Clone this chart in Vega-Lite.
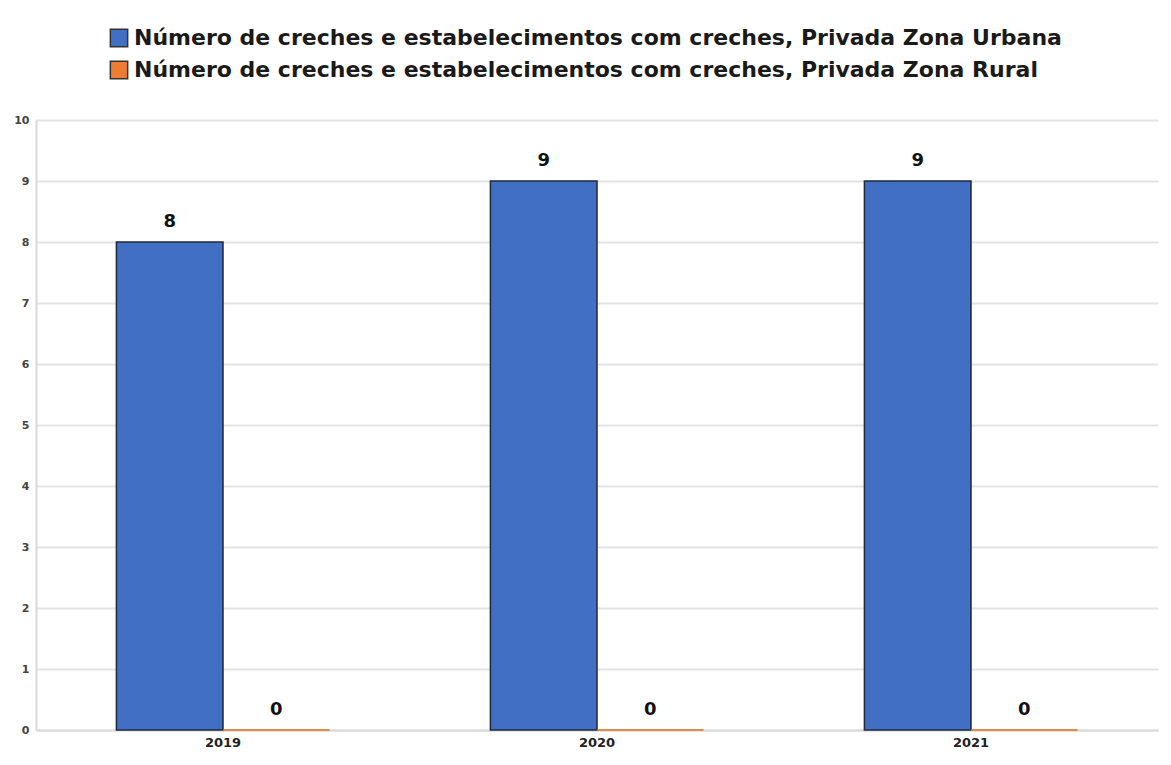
{
  "$schema": "https://vega.github.io/schema/vega-lite/v6.json",
  "width": 1122,
  "height": 610,
  "autosize": "none",
  "padding": {"left": 36, "top": 120, "right": 13, "bottom": 35},
  "background": "white",
  "config": {"view": {"stroke": null}},
  "data": {"values": [
    {"ano": "2019", "serie": "Número de creches e estabelecimentos com creches, Privada Zona Urbana", "valor": 8},
    {"ano": "2019", "serie": "Número de creches e estabelecimentos com creches, Privada Zona Rural", "valor": 0},
    {"ano": "2020", "serie": "Número de creches e estabelecimentos com creches, Privada Zona Urbana", "valor": 9},
    {"ano": "2020", "serie": "Número de creches e estabelecimentos com creches, Privada Zona Rural", "valor": 0},
    {"ano": "2021", "serie": "Número de creches e estabelecimentos com creches, Privada Zona Urbana", "valor": 9},
    {"ano": "2021", "serie": "Número de creches e estabelecimentos com creches, Privada Zona Rural", "valor": 0}
  ]},
  "encoding": {
    "x": {"field": "ano", "type": "nominal", "scale": {"paddingInner": 0.43, "paddingOuter": 0.215},
      "axis": {"title": null, "labelAngle": 0, "labelFont": "DejaVu Sans", "labelFontWeight": "bold", "labelFontSize": 13, "labelColor": "#222", "ticks": false, "labelPadding": 6, "domainColor": "#d9d9d9", "domainWidth": 2}},
    "xOffset": {"field": "serie", "type": "nominal", "sort": ["Número de creches e estabelecimentos com creches, Privada Zona Urbana", "Número de creches e estabelecimentos com creches, Privada Zona Rural"], "scale": {"paddingInner": 0, "paddingOuter": 0}},
    "y": {"field": "valor", "type": "quantitative", "scale": {"domain": [0, 10]},
      "axis": {"title": null, "values": [0,1,2,3,4,5,6,7,8,9,10], "labelOverlap": false, "labelFont": "DejaVu Sans", "labelFontSize": 11, "labelFontWeight": "bold", "labelColor": "#444", "ticks": false, "labelPadding": 7, "domainColor": "#d9d9d9", "domainWidth": 2, "gridColor": "#e3e3e3", "gridWidth": 2}}
  },
  "layer": [
    {
      "mark": {"type": "bar", "strokeWidth": 1.5},
      "encoding": {
        "color": {"field": "serie", "type": "nominal",
          "sort": ["Número de creches e estabelecimentos com creches, Privada Zona Urbana", "Número de creches e estabelecimentos com creches, Privada Zona Rural"],
          "scale": {"range": ["#416FC3", "#ED7D31"]},
          "legend": {"title": null, "orient": "none", "legendX": 72, "legendY": -93, "direction": "vertical", "symbolType": "square", "symbolSize": 300, "symbolStrokeColor": "#333", "symbolStrokeWidth": 1.5, "labelFont": "DejaVu Sans", "labelFontWeight": "bold", "labelFontSize": 22, "labelColor": "#1a1a1a", "labelLimit": 1200, "rowPadding": 8, "symbolOffset": 0, "labelOffset": 4}},
        "stroke": {"field": "serie", "type": "nominal",
          "sort": ["Número de creches e estabelecimentos com creches, Privada Zona Urbana", "Número de creches e estabelecimentos com creches, Privada Zona Rural"],
          "scale": {"range": ["#1f2a3c", "#E0701F"]}, "legend": null}
      }
    },
    {
      "mark": {"type": "text", "dy": -20, "font": "DejaVu Sans", "fontWeight": "bold", "fontSize": 18, "color": "#111"},
      "encoding": {"text": {"field": "valor", "type": "quantitative"}}
    }
  ]
}
